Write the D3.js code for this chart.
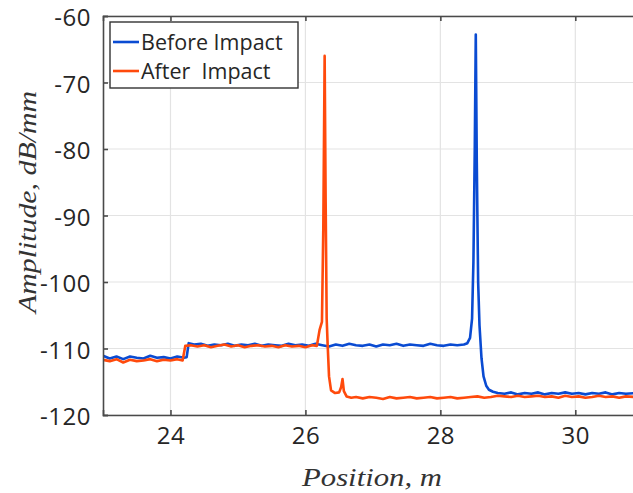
<!DOCTYPE html>
<html>
<head>
<meta charset="utf-8">
<script src="https://cdn.jsdelivr.net/npm/d3@7"></script>
<style>
  body { margin: 0; background: #fff; }
  svg { display: block; }
</style>
</head>
<body>
<svg id="chart"></svg>
<script>
// Before impact trace (position in m, amplitude in dB/mm)
var beforeX = [23.0, 23.1, 23.2, 23.3, 23.4, 23.5, 23.6, 23.7, 23.8, 23.9, 24.0, 24.1, 24.2, 24.24,
    24.27, 24.35, 24.45, 24.55, 24.65, 24.75, 24.85, 24.95, 25.05, 25.15, 25.25, 25.35, 25.45, 25.55,
    25.65, 25.75, 25.85, 25.95, 26.05, 26.15, 26.25, 26.35, 26.45, 26.55, 26.65, 26.75, 26.85, 26.95,
    27.05, 27.15, 27.25, 27.35, 27.45, 27.55, 27.65, 27.75, 27.85, 27.95, 28.05, 28.15, 28.25, 28.35,
    28.4, 28.44, 28.47, 28.49, 28.51, 28.525, 28.54, 28.56, 28.58, 28.61, 28.64, 28.68, 28.72, 28.78,
    28.85, 28.95, 29.05, 29.15, 29.25, 29.35, 29.45, 29.55, 29.65, 29.75, 29.85, 29.95, 30.05, 30.15,
    30.25, 30.35, 30.45, 30.55, 30.65, 30.75, 30.9];
var beforeY = [-111.1, -111.5, -111.2, -111.6, -111.2, -111.4, -111.5, -111.1, -111.4, -111.3, -111.5, -111.2, -111.4, -111.3,
    -109.2, -109.4, -109.3, -109.6, -109.4, -109.5, -109.3, -109.6, -109.4, -109.5, -109.3, -109.6, -109.4, -109.5,
    -109.6, -109.3, -109.5, -109.4, -109.6, -109.3, -109.5, -109.7, -109.4, -109.6, -109.3, -109.5, -109.6, -109.4,
    -109.7, -109.4, -109.5, -109.3, -109.6, -109.4, -109.5, -109.6, -109.3, -109.5, -109.6, -109.4, -109.5, -109.4,
    -109.2, -108.4, -105.5, -97, -80, -62.8, -82, -100, -106.5, -111.5, -114.2, -115.6, -116.2, -116.5,
    -116.7, -116.8, -116.6, -116.9, -116.7, -116.8, -116.6, -116.9, -116.7, -116.8, -116.6, -116.8, -116.7, -116.9,
    -116.7, -116.8, -116.6, -116.9, -116.7, -116.8, -116.7];

// After impact trace
var afterX = [23.0, 23.1, 23.2, 23.3, 23.4, 23.5, 23.6, 23.7, 23.8, 23.9, 24.0, 24.1, 24.18, 24.22,
    24.3, 24.4, 24.5, 24.6, 24.7, 24.8, 24.9, 25.0, 25.1, 25.2, 25.3, 25.4, 25.5, 25.6, 25.7, 25.8,
    25.9, 26.0, 26.1, 26.17, 26.21, 26.245, 26.265, 26.285, 26.3, 26.315, 26.33, 26.35, 26.38, 26.44,
    26.5, 26.53, 26.55, 26.57, 26.61, 26.68, 26.75, 26.85, 26.95, 27.05, 27.15, 27.25, 27.35, 27.45,
    27.55, 27.65, 27.75, 27.85, 27.95, 28.05, 28.15, 28.25, 28.35, 28.45, 28.55, 28.65, 28.75, 28.85,
    28.95, 29.05, 29.15, 29.25, 29.35, 29.45, 29.55, 29.65, 29.75, 29.85, 29.95, 30.05, 30.15, 30.25,
    30.35, 30.45, 30.55, 30.65, 30.75, 30.9];
var afterY = [-111.7, -111.9, -111.6, -112.1, -111.7, -111.9, -111.8, -111.6, -111.9, -111.7, -111.8, -111.6, -111.8, -109.6,
    -109.5, -109.7, -109.5, -109.8, -109.6, -109.4, -109.7, -109.5, -109.8, -109.6, -109.5, -109.7, -109.6, -109.8, -109.5, -109.7,
    -109.6, -109.8, -109.5, -109.6, -107.2, -106.0, -92, -66.0, -88, -105.5, -109.5, -114.2, -116.3, -116.7,
    -116.6, -115.8, -114.6, -116.4, -117.2, -117.4, -117.3, -117.5, -117.3, -117.4, -117.6, -117.3, -117.5, -117.4,
    -117.3, -117.5, -117.4, -117.3, -117.5, -117.4, -117.3, -117.5, -117.4, -117.3, -117.2, -117.4, -117.3, -117.1,
    -117.2, -117.3, -117.1, -117.3, -117.2, -117.1, -117.3, -117.2, -117.4, -117.1, -117.3, -117.2, -117.4, -117.3,
    -117.1, -117.3, -117.2, -117.4, -117.2, -117.3];

var xTicks = [24, 26, 28, 30];
var yTicks = [-60, -70, -80, -90, -100, -110, -120];
var seriesNames = ['Before Impact', 'After  Impact'];
var seriesColors = ['#0a4bd2', '#ff4a0c'];

var W = 633, H = 493;
var margin = {top: 16, right: -1, bottom: 78, left: 103};
var width = W - margin.left - margin.right;
var height = H - margin.top - margin.bottom;

var svg = d3.select('#chart')
    .attr('width', W)
    .attr('height', H);

var x = d3.scaleLinear().domain([23, 30.87]).range([0, width]);
var y = d3.scaleLinear().domain([-120, -60]).range([height, 0]);

var g = svg.append('g')
    .attr('transform', 'translate(' + margin.left + ',' + margin.top + ')');

// grid
g.append('g')
    .selectAll('line')
    .data(xTicks)
    .enter().append('line')
    .attr('x1', function (d) { return x(d); })
    .attr('x2', function (d) { return x(d); })
    .attr('y1', 0).attr('y2', height)
    .attr('stroke', '#e3e3e3').attr('stroke-width', 1.2);
g.append('g')
    .selectAll('line')
    .data(yTicks)
    .enter().append('line')
    .attr('x1', 0).attr('x2', width)
    .attr('y1', function (d) { return y(d); })
    .attr('y2', function (d) { return y(d); })
    .attr('stroke', '#e3e3e3').attr('stroke-width', 1.2);

// clip lines to plot area
svg.append('defs').append('clipPath').attr('id', 'clip')
    .append('rect').attr('width', width).attr('height', height);

var line = d3.line()
    .x(function (d) { return x(d[0]); })
    .y(function (d) { return y(d[1]); });

var series = [d3.zip(beforeX, beforeY), d3.zip(afterX, afterY)];
g.append('g').attr('clip-path', 'url(#clip)')
    .selectAll('path')
    .data(series)
    .enter().append('path')
    .attr('d', line)
    .attr('fill', 'none')
    .attr('stroke', function (d, i) { return seriesColors[i]; })
    .attr('stroke-width', 2.6)
    .attr('stroke-linejoin', 'round');

// axes
var tickFont = '"Open Sans", sans-serif';
var xAxis = d3.axisBottom(x).tickValues(xTicks).tickSize(-5).tickPadding(14)
    .tickFormat(function (d) { return d; });
var gx = g.append('g')
    .attr('transform', 'translate(0,' + height + ')')
    .call(xAxis);
var xTop = d3.axisTop(x).tickValues(xTicks).tickSize(-5).tickFormat('');
var gxt = g.append('g').call(xTop);
var yAxis = d3.axisLeft(y).tickValues(yTicks).tickSize(-5).tickPadding(12)
    .tickFormat(function (d) { return String(d).replace('\u2212', '-'); });
var gy = g.append('g').call(yAxis);

[gx, gxt, gy].forEach(function (a) {
    a.select('.domain').attr('stroke', '#4a4a4a').attr('stroke-width', 1.6);
    a.selectAll('.tick line').attr('stroke', '#4a4a4a').attr('stroke-width', 1.6);
    a.selectAll('text')
        .attr('fill', '#262626')
        .style('font-family', tickFont)
        .style('font-size', '24px')
        .style('letter-spacing', '0.5px');
});
gx.selectAll('.tick text').attr('dy', '0.62em');
gy.selectAll('.tick text').attr('dy', '0.4em');

// axis labels
svg.append('text')
    .attr('x', 372).attr('y', 486)
    .attr('text-anchor', 'middle')
    .attr('textLength', 140)
    .attr('lengthAdjust', 'spacingAndGlyphs')
    .style('font-family', '"Liberation Serif", serif')
    .style('font-style', 'italic')
    .style('font-size', '25px')
    .attr('fill', '#333')
    .text('Position, m');

svg.append('text')
    .attr('transform', 'translate(36,202) rotate(-90)')
    .attr('text-anchor', 'middle')
    .attr('textLength', 222)
    .attr('lengthAdjust', 'spacingAndGlyphs')
    .style('font-family', '"Liberation Serif", serif')
    .style('font-style', 'italic')
    .style('font-size', '25px')
    .attr('fill', '#333')
    .text('Amplitude, dB/mm');

// legend
var legend = svg.append('g').attr('transform', 'translate(110,22)');
legend.append('rect')
    .attr('width', 188).attr('height', 66)
    .attr('fill', '#fff')
    .attr('stroke', '#333').attr('stroke-width', 1.4);
var items = legend.selectAll('g.item')
    .data(seriesNames)
    .enter().append('g')
    .attr('class', 'item')
    .attr('transform', function (d, i) { return 'translate(0,' + (20 + i * 29) + ')'; });
items.append('line')
    .attr('x1', 3).attr('x2', 29)
    .attr('stroke', function (d, i) { return seriesColors[i]; })
    .attr('stroke-width', 2.6);
items.append('text')
    .attr('x', 31).attr('dy', '0.36em')
    .attr('fill', '#262626')
    .style('font-family', tickFont)
    .style('font-size', '21.5px')
    .style('white-space', 'pre')
    .attr('xml:space', 'preserve')
    .text(function (d) { return d; });
</script>
</body>
</html>
